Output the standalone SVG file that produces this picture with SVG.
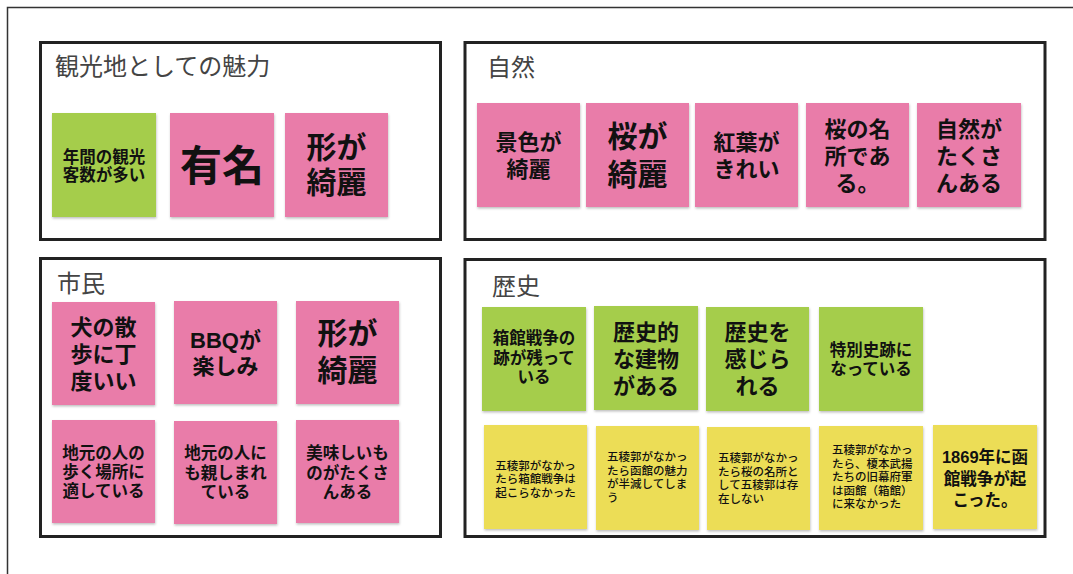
<svg xmlns="http://www.w3.org/2000/svg" width="1073" height="574" viewBox="0 0 1073 574">
<defs>
<filter id="sh" x="-5%" y="-5%" width="115%" height="115%">
<feDropShadow dx="0.5" dy="1.5" stdDeviation="1" flood-color="#000" flood-opacity="0.25"/>
</filter>
</defs>
<style>
.frame{fill:none;stroke:#333;stroke-width:1.5}
.box{fill:#fff;stroke:#222;stroke-width:3}
.pink{fill:#E97BA9;filter:url(#sh)}
.green{fill:#A5CD4B;filter:url(#sh)}
.yellow{fill:#ECDD57;filter:url(#sh)}
text{font-family:"Liberation Sans","Noto Sans CJK JP","Noto Sans CJK SC",sans-serif;fill:#111}
.title{font-size:24px;fill:#444;font-weight:400}
.c{text-anchor:middle;font-weight:700}
.l{text-anchor:start;font-weight:500}
.s16{font-size:16.5px}
.s22{font-size:22px}
.s30{font-size:30px}
.s42{font-size:42px}
.s11{font-size:11.5px;font-weight:500}
</style>
<rect width="1073" height="574" fill="#fff"/>
<path class="frame" d="M7.5 574 V7.5 H1073"/>

<g id="box-kankou">
<rect class="box" x="40.5" y="42.5" width="400" height="197"/>
<text class="title" x="55" y="75">観光地としての魅力</text>
</g>
<g id="node-nenkan">
<rect class="green" x="52" y="113" width="104" height="104"/>
<text class="c s16" x="104" y="162.5"><tspan x="104">年間の観光</tspan><tspan x="104" y="181">客数が多い</tspan></text>
</g>
<g id="node-yuumei">
<rect class="pink" x="170" y="113" width="104" height="104"/>
<text class="c s42" x="222" y="181">有名</text>
</g>
<g id="node-katachi1">
<rect class="pink" x="285" y="113" width="103" height="104"/>
<text class="c s30" x="336.5" y="158"><tspan x="336.5">形が</tspan><tspan x="336.5" y="193">綺麗</tspan></text>
</g>

<g id="box-shizen">
<rect class="box" x="465" y="42.5" width="580" height="197"/>
<text class="title" x="487" y="76">自然</text>
</g>
<g id="node-keshiki">
<rect class="pink" x="477" y="103" width="103" height="104"/>
<text class="c s22" x="528.5" y="149.5"><tspan x="528.5">景色が</tspan><tspan x="528.5" y="177">綺麗</tspan></text>
</g>
<g id="node-sakura">
<rect class="pink" x="586" y="103" width="103" height="104"/>
<text class="c s30" x="637.5" y="147"><tspan x="637.5">桜が</tspan><tspan x="637.5" y="185">綺麗</tspan></text>
</g>
<g id="node-kouyou">
<rect class="pink" x="695" y="103" width="103" height="104"/>
<text class="c s22" x="746.5" y="149.5"><tspan x="746.5">紅葉が</tspan><tspan x="746.5" y="177">きれい</tspan></text>
</g>
<g id="node-meisho">
<rect class="pink" x="806" y="103" width="103" height="104"/>
<text class="c s22" x="857.5" y="136.5"><tspan x="857.5">桜の名</tspan><tspan x="857.5" y="163.5">所であ</tspan><tspan x="857.5" y="190.5">る。</tspan></text>
</g>
<g id="node-takusan">
<rect class="pink" x="917" y="103" width="104" height="104"/>
<text class="c s22" x="969" y="136.5"><tspan x="969">自然が</tspan><tspan x="969" y="163.5">たくさ</tspan><tspan x="969" y="190.5">んある</tspan></text>
</g>

<g id="box-shimin">
<rect class="box" x="40.5" y="258.5" width="400" height="278"/>
<text class="title" x="57" y="291.5">市民</text>
</g>
<g id="node-inu">
<rect class="pink" x="52" y="302" width="103" height="103"/>
<text class="c s22" x="103.5" y="334.5"><tspan x="103.5">犬の散</tspan><tspan x="103.5" y="361.5">歩に丁</tspan><tspan x="103.5" y="388.5">度いい</tspan></text>
</g>
<g id="node-bbq">
<rect class="pink" x="174" y="301" width="103" height="103"/>
<text class="c s22" x="225.5" y="348"><tspan x="225.5">BBQが</tspan><tspan x="225.5" y="374">楽しみ</tspan></text>
</g>
<g id="node-katachi2">
<rect class="pink" x="296" y="301" width="103" height="103"/>
<text class="c s30" x="347.5" y="343.5"><tspan x="347.5">形が</tspan><tspan x="347.5" y="380.5">綺麗</tspan></text>
</g>
<g id="node-jimoto1">
<rect class="pink" x="52" y="420" width="103" height="103"/>
<text class="c s16" x="103.5" y="458.5"><tspan x="103.5">地元の人の</tspan><tspan x="103.5" y="477.5">歩く場所に</tspan><tspan x="103.5" y="496.5">適している</tspan></text>
</g>
<g id="node-jimoto2">
<rect class="pink" x="174" y="421" width="103" height="103"/>
<text class="c s16" x="225.5" y="459"><tspan x="225.5">地元の人に</tspan><tspan x="225.5" y="478.5">も親しまれ</tspan><tspan x="225.5" y="498">ている</tspan></text>
</g>
<g id="node-oishii">
<rect class="pink" x="296" y="420" width="103" height="103"/>
<text class="c s16" x="347.5" y="459"><tspan x="347.5">美味しいも</tspan><tspan x="347.5" y="478.5">のがたくさ</tspan><tspan x="347.5" y="498">んある</tspan></text>
</g>

<g id="box-rekishi">
<rect class="box" x="465" y="259.5" width="580" height="277"/>
<text class="title" x="492" y="295">歴史</text>
</g>
<g id="node-hakodate-ato">
<rect class="green" x="482" y="307" width="104" height="104"/>
<text class="c s16" x="534" y="344"><tspan x="534">箱館戦争の</tspan><tspan x="534" y="363.5">跡が残って</tspan><tspan x="534" y="383">いる</tspan></text>
</g>
<g id="node-tatemono">
<rect class="green" x="594" y="306" width="104" height="104"/>
<text class="c s22" x="646" y="339.5"><tspan x="646">歴史的</tspan><tspan x="646" y="366.5">な建物</tspan><tspan x="646" y="393.5">がある</tspan></text>
</g>
<g id="node-kanjirareru">
<rect class="green" x="706" y="307" width="103" height="104"/>
<text class="c s22" x="757.5" y="339.5"><tspan x="757.5">歴史を</tspan><tspan x="757.5" y="366.5">感じら</tspan><tspan x="757.5" y="393.5">れる</tspan></text>
</g>
<g id="node-tokubetsu">
<rect class="green" x="819" y="307" width="104" height="104"/>
<text class="c s16" x="871" y="356"><tspan x="871">特別史跡に</tspan><tspan x="871" y="375">なっている</tspan></text>
</g>
<g id="node-goryo1">
<rect class="yellow" x="484" y="425" width="103" height="104"/>
<text class="c s11" x="535.5" y="469.5"><tspan x="535.5">五稜郭がなかっ</tspan><tspan x="535.5" y="483">たら箱館戦争は</tspan><tspan x="535.5" y="496.5">起こらなかった</tspan></text>
</g>
<g id="node-goryo2">
<rect class="yellow" x="596" y="426" width="103" height="104"/>
<text class="l s11" x="607" y="461"><tspan x="607">五稜郭がなかっ</tspan><tspan x="607" y="474.5">たら函館の魅力</tspan><tspan x="607" y="488">が半減してしま</tspan><tspan x="607" y="501.5">う</tspan></text>
</g>
<g id="node-goryo3">
<rect class="yellow" x="707" y="427" width="103" height="103"/>
<text class="l s11" x="718" y="462"><tspan x="718">五稜郭がなかっ</tspan><tspan x="718" y="475.5">たら桜の名所と</tspan><tspan x="718" y="489">して五稜郭は存</tspan><tspan x="718" y="502.5">在しない</tspan></text>
</g>
<g id="node-goryo4">
<rect class="yellow" x="819" y="426" width="104" height="104"/>
<text class="l s11" x="832" y="454"><tspan x="832">五稜郭がなかっ</tspan><tspan x="832" y="467.5">たら、榎本武揚</tspan><tspan x="832" y="481">たちの旧幕府軍</tspan><tspan x="832" y="494.5">は函館（箱館）</tspan><tspan x="832" y="508">に来なかった</tspan></text>
</g>
<g id="node-1869">
<rect class="yellow" x="933" y="425" width="104" height="104"/>
<text class="c s16" x="985" y="463"><tspan x="985">1869年に函</tspan><tspan x="985" y="484.5">館戦争が起</tspan><tspan x="985" y="506">こった。</tspan></text>
</g>
<g id="connectors"/>
</svg>
